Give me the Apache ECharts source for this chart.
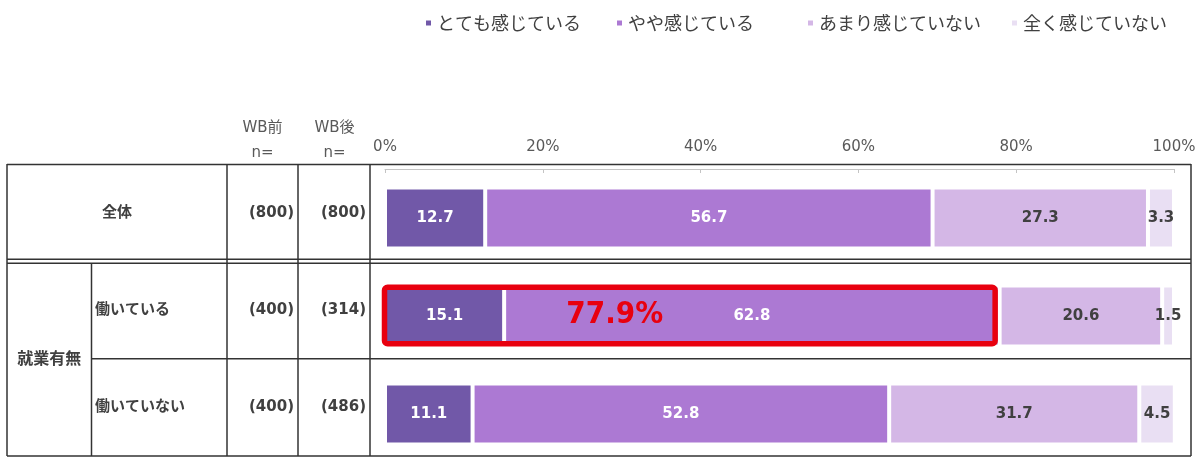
<!DOCTYPE html>
<html><head><meta charset="utf-8">
<script src="https://cdn.jsdelivr.net/npm/echarts@6/dist/echarts.min.js"></script>
<style>html,body{margin:0;padding:0;background:#fff}#c{width:1200px;height:463px}</style>
</head><body><div id="c"></div>
<script>
// ---- data ----
const seriesNames = ['とても感じている', 'やや感じている', 'あまり感じていない', '全く感じていない'];
const categories = ['全体', '働いている', '働いていない'];
const groupLabel = '就業有無';
const nBefore = [800, 400, 400];
const nAfter = [800, 314, 486];
const veryMuch = [12.7, 15.1, 11.1];
const somewhat = [56.7, 62.8, 52.8];
const notMuch = [27.3, 20.6, 31.7];
const notAtAll = [3.3, 1.5, 4.5];
const xTickStep = 20;
const headerBefore = ['WB前', 'n='];
const headerAfter = ['WB後', 'n='];
const highlightRow = 1;

// ---- styling ----
const FONT = "'DejaVu Sans', 'Noto Sans CJK JP', sans-serif";
const JP = "'Noto Sans CJK JP', sans-serif";
const colors = ['#7158a8', '#ac79d3', '#d4b7e6', '#e9dff3'];
const labelColors = ['#ffffff', '#ffffff', '#404040', '#404040'];
const values = [veryMuch, somewhat, notMuch, notAtAll];
const legendLefts = [424, 615, 806, 1010];

const tbl = { left: 7, right: 1191, top: 164, height: 292, c1: 91.5, c2: 227, c3: 298, c4: 370 };

const chart = echarts.init(document.getElementById('c'), null, { renderer: 'canvas' });

const barSeries = seriesNames.map((name, k) => ({
  name, type: 'bar', stack: 'all', xAxisIndex: 1, yAxisIndex: 1,
  barWidth: 61,
  data: values[k],
  itemStyle: { color: colors[k], borderColor: '#ffffff', borderWidth: 2 },
  label: {
    show: true, position: 'inside',
    formatter: p => p.value.toFixed(1),
    color: labelColors[k], fontWeight: 'bold', fontSize: 15, fontFamily: FONT
  },
  emphasis: { disabled: true }
}));

const highlightTotal = +(veryMuch[highlightRow] + somewhat[highlightRow]).toFixed(1);

const boxSeries = {
  type: 'custom', xAxisIndex: 1, yAxisIndex: 1, z: 5,
  data: [[highlightTotal, highlightRow]],
  renderItem: (params, api) => {
    const tot = api.value(0), row = api.value(1);
    const p0 = api.coord([0, row]);
    const p1 = api.coord([tot, row]);
    const x0 = p0[0] - 0.5, x1 = p1[0] - 4.5;
    const cy = p0[1] - 0.5;
    const w = x1 - x0;
    return {
      type: 'group',
      children: [
        { type: 'rect', shape: { x: x0, y: cy - 28.2, width: w, height: 56.4, r: 3 },
          style: { fill: 'none', stroke: '#e8000f', lineWidth: 5.5 } },
        { type: 'text', style: {
            text: tot.toFixed(1) + '%', x: x0 + w * 0.377, y: cy - 1,
            align: 'center', verticalAlign: 'middle', fill: '#e8000f',
            fontSize: 31, fontWeight: 'bold',
            fontFamily: "'DejaVu Sans Condensed', 'Liberation Sans Narrow', 'DejaVu Sans', sans-serif"
          } }
      ]
    };
  }
};

const cellStyle = { fontSize: 15, fontWeight: 'bold', color: '#404040', fontFamily: FONT };

chart.setOption({
  animation: false,
  legend: seriesNames.map((name, i) => ({
    left: legendLefts[i], top: 14, padding: 0, itemWidth: 7, itemHeight: 7, icon: 'rect',
    data: [name], selectedMode: false,
    textStyle: { fontSize: 18, color: '#404040', fontFamily: JP }
  })),
  grid: [
    { left: tbl.left, width: tbl.right - tbl.left, top: tbl.top, height: tbl.height },
    { left: 385, width: 789, top: 169, height: 297 }
  ],
  xAxis: [
    { gridIndex: 0, type: 'value', min: 0, max: 1, show: false },
    { gridIndex: 1, type: 'value', position: 'top', min: 0, max: 100, interval: xTickStep,
      axisLabel: { formatter: '{value}%', color: '#595959', fontSize: 15, margin: 14, fontFamily: FONT },
      axisLine: { show: true, lineStyle: { color: '#c4c4c4', width: 1 } },
      axisTick: { show: true, inside: true, length: 4, lineStyle: { color: '#c4c4c4' } },
      splitLine: { show: false } }
  ],
  yAxis: [
    { gridIndex: 0, type: 'category', data: categories, inverse: true,
      axisLine: { show: false }, axisTick: { show: false }, splitLine: { show: false },
      axisLabel: {
        inside: true, margin: 0, interval: 0,
        formatter: (v, i) => (i === 0 ? `{c|${v}}` : `{sp| }{l|${v}}`) +
          `{n|(${nBefore[i]})}{n2|(${nAfter[i]})}`,
        rich: {
          c: Object.assign({ width: tbl.c2 - tbl.left, align: 'center' }, cellStyle),
          sp: Object.assign({ width: tbl.c1 + 3.5 - tbl.left }, cellStyle),
          l: Object.assign({ width: tbl.c2 - tbl.c1 - 3.5, align: 'left' }, cellStyle),
          n: Object.assign({ width: 67, align: 'right' }, cellStyle),
          n2: Object.assign({ width: 72, align: 'right' }, cellStyle)
        }
      } },
    { gridIndex: 1, type: 'category', data: categories, inverse: true, show: false }
  ],
  series: barSeries.concat([boxSeries])
});

// ---- table frame & header texts (layout) ----
const rowH = tbl.height / categories.length;
const b1 = tbl.top + rowH, b2 = tbl.top + 2 * rowH, bot = tbl.top + tbl.height;
const lineStyle = { stroke: '#333333', lineWidth: 1.5 };
const hl = (x1, x2, y) => ({ type: 'line', shape: { x1, y1: y, x2, y2: y }, style: lineStyle, silent: true });
const vl = (x, y1, y2) => ({ type: 'line', shape: { x1: x, y1, x2: x, y2 }, style: lineStyle, silent: true });
const hdr = (txt, x, y) => ({ type: 'text', x, y, silent: true,
  style: { text: txt, align: 'center', verticalAlign: 'middle', fill: '#595959', fontSize: 15, fontFamily: FONT } });

chart.setOption({
  graphic: [
    hl(tbl.left, tbl.right, tbl.top + 0.5),
    hl(tbl.left, tbl.right, b1 - 2),
    hl(tbl.left, tbl.right, b1 + 2),
    hl(tbl.c1, tbl.right, b2),
    hl(tbl.left, tbl.right, bot),
    vl(tbl.left, tbl.top, bot),
    vl(tbl.c1, b1 + 2, bot),
    vl(tbl.c2, tbl.top, bot),
    vl(tbl.c3, tbl.top, bot),
    vl(tbl.c4, tbl.top, bot),
    vl(tbl.right, tbl.top, bot),
    hdr(headerBefore[0], (tbl.c2 + tbl.c3) / 2, 128),
    hdr(headerBefore[1], (tbl.c2 + tbl.c3) / 2, 153),
    hdr(headerAfter[0], (tbl.c3 + tbl.c4) / 2 + 0.5, 128),
    hdr(headerAfter[1], (tbl.c3 + tbl.c4) / 2 + 0.5, 153),
    { type: 'text', x: (tbl.left + tbl.c1) / 2, y: b2 + 1, silent: true,
      style: { text: groupLabel, align: 'center', verticalAlign: 'middle', fill: '#404040',
        fontSize: 16, fontWeight: 'bold', fontFamily: FONT } }
  ]
});
</script>
</body></html>
